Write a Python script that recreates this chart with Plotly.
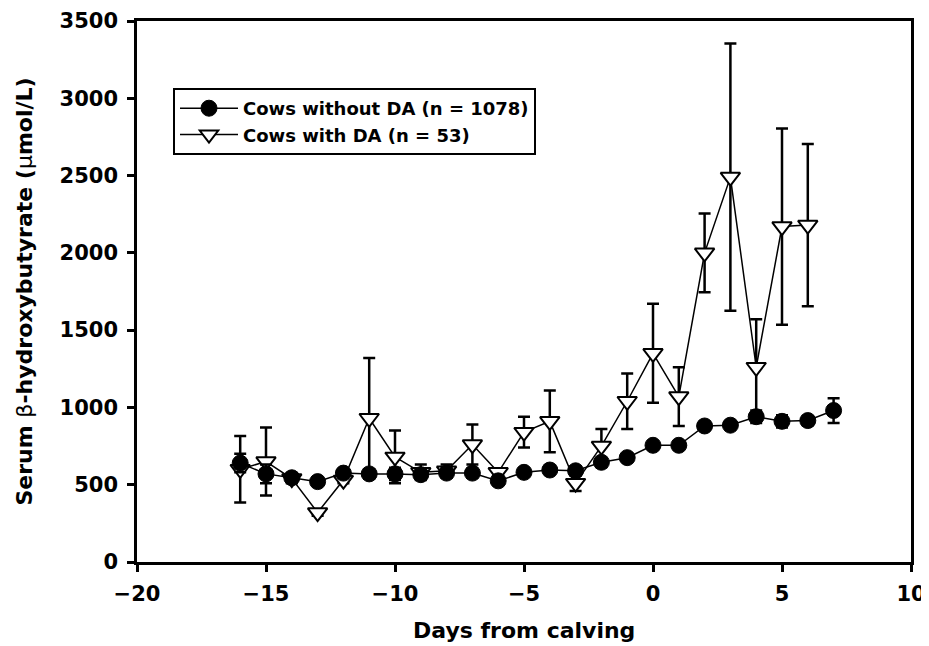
import plotly.graph_objects as go

days = [-16, -15, -14, -13, -12, -11, -10, -9, -8, -7, -6, -5, -4, -3, -2, -1, 0, 1, 2, 3, 4, 5, 6, 7]
no_da = [640, 570, 545, 520, 575, 570, 570, 565, 575, 575, 525, 580, 595, 590, 645, 675, 755, 755, 880, 885, 940, 910, 915, 980]
no_da_err = [60, 60, 30, 20, 20, 30, 40, 30, 30, 30, 20, 20, 20, 30, 30, 20, 20, 20, 20, 20, 40, 40, 30, 80]

days_da = [-16, -15, -14, -13, -12, -11, -10, -9, -8, -7, -6, -5, -4, -3, -2, -1, 0, 1, 2, 3, 4, 5, 6]
da = [600, 650, 540, 320, 530, 930, 680, 580, 590, 760, 580, 840, 910, 510, 750, 1040, 1350, 1070, 2000, 2490, 1260, 2170, 2180]
da_err = [215, 220, 30, 20, 20, 390, 170, 50, 40, 130, 20, 100, 200, 50, 110, 180, 320, 190, 255, 865, 310, 635, 525]

x_ticks = [-20, -15, -10, -5, 0, 5, 10]
x_tick_labels = ["\u221220", "\u221215", "\u221210", "\u22125", "0", "5", "10"]
y_ticks = [0, 500, 1000, 1500, 2000, 2500, 3000, 3500]

FONT = "DejaVu Sans"

fig = go.Figure()

fig.add_trace(go.Scatter(
    x=days_da, y=da, mode="lines+markers",
    name="Cows with DA (n = 53)",
    line=dict(color="black", width=1.5),
    marker=dict(symbol="triangle-down", size=17, color="white", line=dict(color="black", width=2)),
    error_y=dict(type="data", array=da_err, visible=True, color="black", thickness=2.5, width=6),
))
fig.add_trace(go.Scatter(
    x=days, y=no_da, mode="lines+markers",
    name="Cows without DA (n = 1078)",
    line=dict(color="black", width=1.5),
    marker=dict(symbol="circle", size=16, color="black", line=dict(color="black", width=1)),
    error_y=dict(type="data", array=no_da_err, visible=True, color="black", thickness=2.5, width=6),
))

axis_common = dict(
    showline=True, linecolor="black", linewidth=2.5, mirror=True,
    ticks="outside", ticklen=7, tickwidth=2.5, tickcolor="black",
    showgrid=False, zeroline=False,
    tickfont=dict(family=FONT, size=21, color="black", weight="bold"),
)

# page is offset by the browser's 8px body margin
W, H = 921, 638
L, R, T, B = 129, 18, 13, 84
pw, ph = W - L - R, H - T - B

fig.update_layout(
    width=W, height=H,
    margin=dict(l=L, r=R, t=T, b=B, autoexpand=False),
    plot_bgcolor="white", paper_bgcolor="white",
    showlegend=True,
    legend=dict(
        x=(165 - L) / pw, y=(T + ph - 80) / ph, xanchor="left", yanchor="top",
        bordercolor="black", borderwidth=2, bgcolor="white",
        traceorder="reversed",
        font=dict(family=FONT, size=18, color="black", weight="bold"),
        itemwidth=58, tracegroupgap=0,
    ),
    xaxis=dict(
        range=[-20, 10], tickvals=x_ticks, ticktext=x_tick_labels,
        ticklabelstandoff=4,
        **axis_common,
    ),
    yaxis=dict(
        range=[0, 3500], tickvals=y_ticks,
        ticklabelstandoff=5,
        **axis_common,
    ),
    annotations=[
        dict(text="Days from calving", xref="paper", yref="paper",
             x=0.5, y=(T + ph - 622) / ph, xanchor="center", yanchor="middle",
             showarrow=False,
             font=dict(family=FONT, size=22, color="black", weight="bold")),
        dict(text="Serum <span style='font-weight:normal'>\u03b2</span>-hydroxybutyrate (<span style='font-weight:normal'>\u03bc</span>mol/L)",
             xref="paper", yref="paper",
             x=(16 - L) / pw, y=0.5, xanchor="center", yanchor="middle",
             textangle=-90, showarrow=False,
             font=dict(family=FONT, size=22, color="black", weight="bold")),
    ],
)

fig.write_html("out.html")
